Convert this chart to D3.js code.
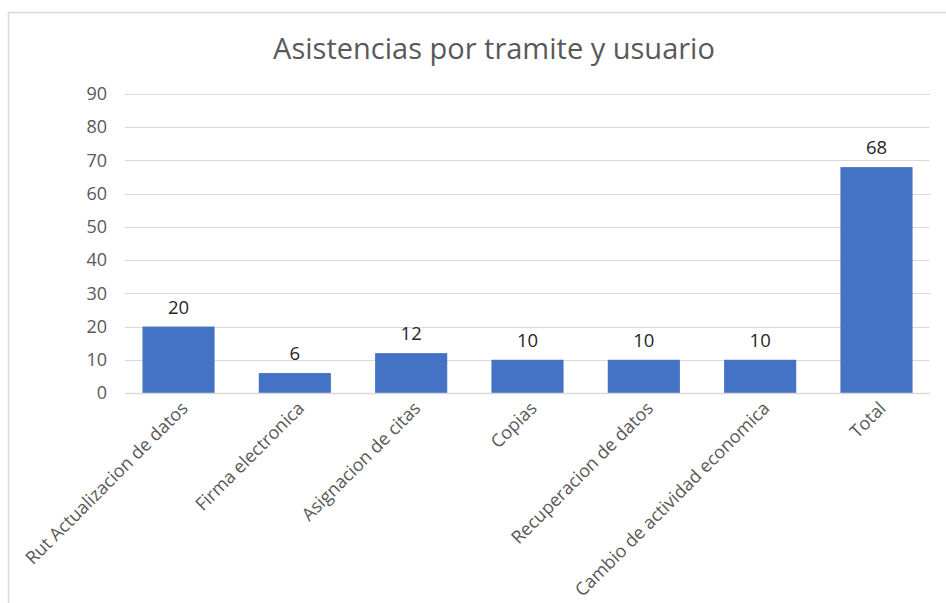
<!DOCTYPE html>
<html>
<head>
<meta charset="utf-8">
<script src="https://cdn.jsdelivr.net/npm/d3@7"></script>
<style>
  html, body { margin: 0; padding: 0; background: #fff; }
  svg { display: block; }
  text { font-family: "Open Sans", "Noto Sans", sans-serif; }
</style>
</head>
<body>
<div id="chart"></div>
<script>
const title = "Asistencias por tramite y usuario";
const categories = ["Rut Actualizacion de datos", "Firma electronica", "Asignacion de citas", "Copias", "Recuperacion de datos", "Cambio de actividad economica", "Total"];
const values = [20, 6, 12, 10, 10, 10, 68];
const yTicks = [0, 10, 20, 30, 40, 50, 60, 70, 80, 90];

const W = 946, H = 603;
const svg = d3.select("#chart").append("svg").attr("width", W).attr("height", H);

svg.append("rect").attr("width", W).attr("height", H).attr("fill", "#fff");
// chart frame
svg.append("rect").attr("x", 8.5).attr("y", 12.5).attr("width", W + 10).attr("height", H + 10)
  .attr("fill", "none").attr("stroke", "#d9d9d9").attr("stroke-width", 1.5);

const plot = { left: 125, right: 930, top: 94, bottom: 393 };

const x = d3.scaleBand().domain(categories).range([plot.left, plot.right])
  .paddingInner(0.38).paddingOuter(0.15);
const y = d3.scaleLinear().domain([0, 90]).range([plot.bottom, plot.top]);

svg.append("text").attr("x", 494).attr("y", 59).attr("text-anchor", "middle")
  .attr("font-size", 29).attr("fill", "#595959").text(title);

// gridlines
svg.append("g").selectAll("line").data(yTicks.filter(d => d > 0)).join("line")
  .attr("x1", plot.left).attr("x2", plot.right)
  .attr("y1", d => Math.round(y(d)) + 0.5).attr("y2", d => Math.round(y(d)) + 0.5)
  .attr("stroke", "#d9d9d9").attr("stroke-width", 1);

// y axis labels
const yAxis = d3.axisLeft(y).tickValues(yTicks).tickSize(0).tickPadding(0);
const gy = svg.append("g").attr("transform", `translate(${plot.left - 18},0)`).call(yAxis);
gy.select(".domain").remove();
gy.selectAll("text").attr("font-size", 18).attr("fill", "#595959")
  .attr("font-family", "\"Open Sans\", sans-serif");

// bars
svg.append("g").selectAll("rect").data(values).join("rect")
  .attr("x", (d, i) => x(categories[i]))
  .attr("width", x.bandwidth())
  .attr("y", d => y(d))
  .attr("height", d => y(0) - y(d))
  .attr("fill", "#4472c4");

// baseline
svg.append("line").attr("x1", plot.left).attr("x2", plot.right)
  .attr("y1", plot.bottom + 0.5).attr("y2", plot.bottom + 0.5)
  .attr("stroke", "#d9d9d9").attr("stroke-width", 1.5);

// data labels
svg.append("g").selectAll("text").data(values).join("text")
  .attr("x", (d, i) => x(categories[i]) + x.bandwidth() / 2)
  .attr("y", d => y(d) - 13)
  .attr("text-anchor", "middle").attr("font-size", 18.5).attr("fill", "#262626")
  .text(d => d);

// x axis category labels
const xAxis = d3.axisBottom(x).tickSize(0).tickPadding(0);
const gx = svg.append("g").attr("transform", `translate(0,${plot.bottom})`).call(xAxis);
gx.select(".domain").remove();
gx.selectAll("text")
  .attr("font-size", 18).attr("fill", "#595959")
  .attr("font-family", "\"Open Sans\", sans-serif")
  .attr("text-anchor", "end")
  .attr("x", 0).attr("y", 0).attr("dy", "0.35em")
  .attr("transform", "translate(6,12) rotate(-45)");
</script>
</body>
</html>
